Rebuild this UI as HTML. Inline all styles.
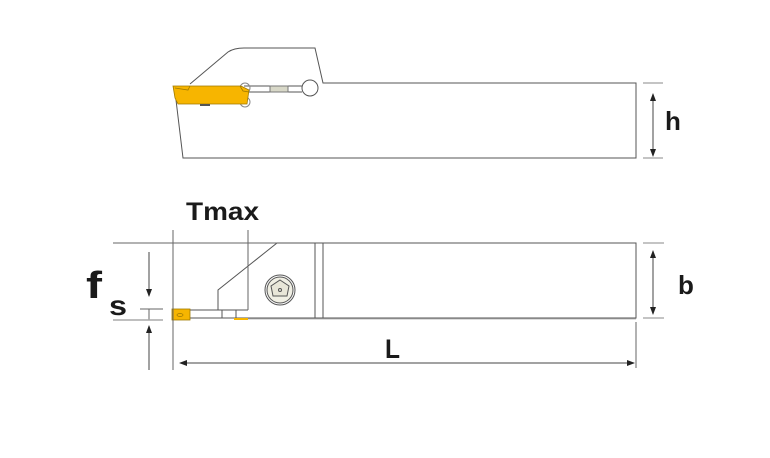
<!DOCTYPE html>
<html><head><meta charset="utf-8"><style>
html,body{margin:0;padding:0;background:#fff;}
svg{display:block;}
text{font-family:"Liberation Sans",sans-serif;font-weight:bold;fill:#1a1a1a;}
</style></head><body>
<svg width="770" height="458" viewBox="0 0 770 458" xmlns="http://www.w3.org/2000/svg">
<defs>
<marker id="a" markerWidth="8" markerHeight="8" refX="7" refY="4" orient="auto" markerUnits="userSpaceOnUse">
<path d="M0,1 L8,4 L0,7 Z" fill="#222"/></marker>
</defs>
<g fill="none" stroke="#555" stroke-width="1">
<path d="M190,84 L228,52 Q234,48 244,48 L315,48 L323,83 L636,83 L636,158 L183,158 L176,100"/>
<path d="M244,86 L302,86 M244,92 L302,92"/>
<rect x="270" y="86" width="18" height="6" fill="#d8d8c8" stroke="#777"/>
<circle cx="310" cy="88" r="8" fill="#fff"/>
<circle cx="245" cy="88" r="5" stroke="#888"/>
<circle cx="245" cy="102" r="5" stroke="#888"/>
</g>
<polygon points="173,86 241,86 249,90 247,104 178,104 175,98" fill="#f7b500" stroke="#a07a00" stroke-width="0.8"/>
<path d="M175,88 L188,90 L190,86 M240,86 L243,91 L249,92" fill="none" stroke="#a07a00" stroke-width="0.8"/>
<rect x="200" y="104" width="10" height="2" fill="#555"/>
<g stroke="#888" stroke-width="1">
<line x1="643" y1="83" x2="663" y2="83"/>
<line x1="643" y1="158" x2="663" y2="158"/>
<line x1="643" y1="243" x2="664" y2="243"/>
<line x1="643" y1="318" x2="664" y2="318"/>
</g>
<g stroke="#444" stroke-width="1">
<line x1="653" y1="120" x2="653" y2="94" marker-end="url(#a)"/>
<line x1="653" y1="120" x2="653" y2="156" marker-end="url(#a)"/>
<line x1="653" y1="280" x2="653" y2="251" marker-end="url(#a)"/>
<line x1="653" y1="280" x2="653" y2="314" marker-end="url(#a)"/>
<line x1="400" y1="363" x2="180" y2="363" marker-end="url(#a)"/>
<line x1="400" y1="363" x2="634" y2="363" marker-end="url(#a)"/>
<line x1="149" y1="252" x2="149" y2="296" marker-end="url(#a)"/>
<line x1="149" y1="370" x2="149" y2="326" marker-end="url(#a)"/>
</g>
<g fill="none" stroke="#555" stroke-width="1">
<path d="M277,243 L636,243 L636,318 L248,318"/>
<path d="M277,243 L218,290 L218,310"/>
<line x1="315" y1="243" x2="315" y2="318"/>
<line x1="323" y1="243" x2="323" y2="318"/>
<circle cx="280" cy="290" r="15"/>
<circle cx="280" cy="290" r="13" fill="#f0efe4"/>
<polygon points="280,280 289,286 287,296 273,296 271,286" fill="#e8e6d8"/>
<circle cx="280" cy="290" r="1.5"/>
<line x1="190" y1="310" x2="248" y2="310"/>
<line x1="190" y1="318" x2="248" y2="318"/>
<line x1="222" y1="310" x2="222" y2="318"/>
<line x1="236" y1="310" x2="236" y2="318"/>
</g>
<rect x="172" y="309" width="18" height="11" fill="#f7b500" stroke="#a07a00" stroke-width="0.8"/>
<ellipse cx="180" cy="315" rx="3" ry="1.5" fill="none" stroke="#a07a00" stroke-width="0.8"/>
<rect x="234" y="318" width="14" height="2" fill="#f7b500"/>
<g stroke="#666" stroke-width="1">
<line x1="113" y1="243" x2="277" y2="243"/>
<line x1="173" y1="230" x2="173" y2="370"/>
<line x1="248" y1="230" x2="248" y2="310"/>
<line x1="140" y1="309" x2="163" y2="309"/>
<line x1="149" y1="309" x2="149" y2="320"/>
<line x1="636" y1="322" x2="636" y2="368"/>
</g>
<line x1="113" y1="320" x2="163" y2="320" stroke="#aaa" stroke-width="1.5"/>
<line x1="248" y1="319" x2="636" y2="319" stroke="#bbb" stroke-width="1"/>
<text x="186" y="220" font-size="25" textLength="73" lengthAdjust="spacingAndGlyphs">Tmax</text>
<text x="86" y="298" font-size="38" textLength="16" lengthAdjust="spacingAndGlyphs">f</text>
<text x="109" y="315" font-size="28" textLength="18" lengthAdjust="spacingAndGlyphs">s</text>
<text x="385" y="358" font-size="27" textLength="15" lengthAdjust="spacingAndGlyphs">L</text>
<text x="665" y="130" font-size="26">h</text>
<text x="678" y="294" font-size="26">b</text>
</svg>
</body></html>
